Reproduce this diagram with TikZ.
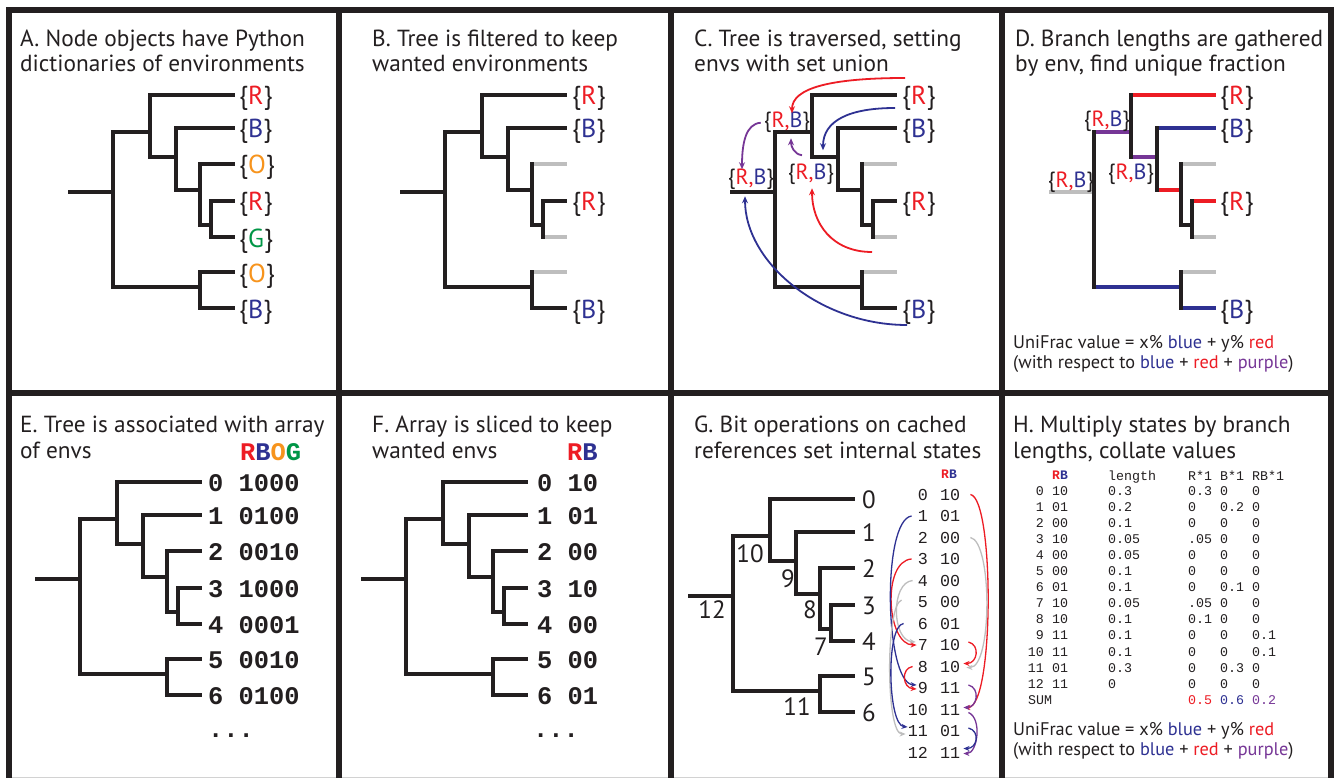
\documentclass[tikz,border=0pt]{standalone}
\usepackage{fontspec}
\setmainfont{PT Sans}
\setmonofont{Liberation Mono}
\usetikzlibrary{arrows.meta,calc}

\definecolor{ink}{RGB}{35,31,32}
\definecolor{cR}{RGB}{237,28,36}
\definecolor{cB}{RGB}{46,49,146}
\definecolor{cO}{RGB}{247,148,29}
\definecolor{cG}{RGB}{0,150,70}
\definecolor{cP}{RGB}{118,54,150}
\definecolor{cGr}{RGB}{190,190,190}

% environment labels
\newcommand\eR{\textcolor{cR}{R}}
\newcommand\eB{\textcolor{cB}{B}}
\newcommand\eO{\textcolor{cO}{O}}
\newcommand\eG{\textcolor{cG}{G}}
\newcommand\envset[1]{\{#1\}}
\newcommand\rbset{\{\textcolor{cR}{R,}\textcolor{cB}{B}\}}

\tikzset{
  frame/.style={line width=6.5pt, ink},
  br/.style={line width=3.6pt, ink},
  brg/.style={line width=3.6pt, cGr},
  vert/.style={line width=3.6pt, ink, line cap=rect},
  t stem/.style={br}, t h10/.style={br}, t h11/.style={br}, t h9/.style={br},
  t h8/.style={br}, t h7/.style={br},
  t l0/.style={br}, t l1/.style={br}, t l2/.style={br}, t l3/.style={br},
  t l4/.style={br}, t l5/.style={br}, t l6/.style={br},
  ttl/.style={anchor=base west, inner sep=0pt, text=ink, font=\fontsize{23.3}{25}\selectfont},
  lab/.style={anchor=base west, inner sep=0pt, text=ink, font=\fontsize{26}{28}\selectfont},
  setlab/.style={anchor=base, inner sep=0pt, text=ink, font=\fontsize{22}{24}\selectfont},
  note/.style={anchor=base west, inner sep=0pt, text=ink, font=\fontsize{18.3}{20}\selectfont},
  bits/.style={anchor=base west, inner sep=0pt, text=ink, font=\fontsize{25.4}{26}\selectfont\ttfamily\bfseries},
  gnum/.style={anchor=base, inner sep=0pt, text=ink, font=\fontsize{25}{27}\selectfont},
  gidx/.style={anchor=base east, inner sep=0pt, text=ink, font=\fontsize{16.7}{18}\selectfont\ttfamily},
  gst/.style={anchor=base west, inner sep=0pt, text=ink, font=\fontsize{16.7}{18}\selectfont\ttfamily},
  hcell/.style={anchor=base west, inner sep=0pt, text=ink, font=\fontsize{13.3}{14}\selectfont\ttfamily},
  hidx/.style={anchor=base east, inner sep=0pt, text=ink, font=\fontsize{13.3}{14}\selectfont\ttfamily},
  carr/.style={line width=1.8pt, -{Stealth[length=7pt,width=6pt]}},
  garr/.style={line width=1.3pt, -{Stealth[length=6pt,width=5pt]}},
}

% the seven-leaf tree, drawn at an offset
\newcommand\phylo[2]{%
  \begin{scope}[shift={(#1,#2)}]
    \draw[t stem] (68,192) -- (113,192);
    \draw[t h10] (113,132) -- (150,132);
    \draw[t h11] (113,287) -- (200,287);
    \draw[t h9] (150,157) -- (176,157);
    \draw[t h8] (176,190) -- (200,190);
    \draw[t h7] (200,225) -- (211,225);
    \draw[t l0] (150,95) -- (235,95);
    \draw[t l1] (176,128) -- (235,128);
    \draw[t l2] (200,164) -- (235,164);
    \draw[t l3] (211,201) -- (235,201);
    \draw[t l4] (211,237) -- (235,237);
    \draw[t l5] (200,272) -- (235,272);
    \draw[t l6] (200,308) -- (235,308);
    \draw[vert] (113,132) -- (113,287);
    \draw[vert] (150,95) -- (150,157);
    \draw[vert] (176,128) -- (176,190);
    \draw[vert] (200,164) -- (200,225);
    \draw[vert] (211,201) -- (211,237);
    \draw[vert] (200,272) -- (200,308);
  \end{scope}}

\begin{document}
\begin{tikzpicture}[x=1pt,y=-1pt]
\useasboundingbox (0,0) rectangle (1340,778);
\fill[white] (0,0) rectangle (1340,778);

% ---------- panel frame ----------
\draw[cGr!70, line width=1pt] (9,777) -- (1331,777);
\draw[frame] (9,778) -- (9,10) -- (1331,10) -- (1331,778);
\draw[frame] (9,393) -- (1331,393);
\foreach \xx in {339,671,1002} \draw[frame] (\xx,10) -- (\xx,778);

% ---------- titles ----------
\node[ttl] (tA1) at (20,47) {A. Node objects have Python};
\node[ttl] (tA2) at (20,72) {dictionaries of environments};
\node[ttl] (tB1) at (372,47) {B. Tree is filtered to keep};
\node[ttl] (tB2) at (372,72) {wanted environments};
\node[ttl] (tC1) at (694,47) {C. Tree is traversed, setting};
\node[ttl] (tC2) at (694,72) {envs with set union};
\node[ttl] (tD1) at (1015,47) {D. Branch lengths are gathered};
\node[ttl] (tD2) at (1015,72) {by env, find unique fraction};
\node[ttl] (tE1) at (20,432) {E. Tree is associated with array};
\node[ttl] (tE2) at (20,458) {of envs};
\node[ttl] (tF1) at (372,432) {F. Array is sliced to keep};
\node[ttl] (tF2) at (372,458) {wanted envs};
\node[ttl] (tG1) at (694,432) {G. Bit operations on cached};
\node[ttl] (tG2) at (694,458) {references set internal states};
\node[ttl] (tH1) at (1013,432) {H. Multiply states by branch};
\node[ttl] (tH2) at (1013,458) {lengths, collate values};

% ---------- A: dictionaries at every leaf ----------
\phylo{0}{0}
\node[lab] (a0) at (239,105) {\envset{\eR}};
\node[lab] (a1) at (239,138) {\envset{\eB}};
\node[lab] (a2) at (239,174) {\envset{\eO}};
\node[lab] (a3) at (239,211) {\envset{\eR}};
\node[lab] (a4) at (239,247) {\envset{\eG}};
\node[lab] (a5) at (239,282) {\envset{\eO}};
\node[lab] (a6) at (239,318) {\envset{\eB}};

% ---------- B: filtered tree ----------
\begin{scope}[t l2/.style={brg}, t l4/.style={brg}, t l5/.style={brg}]
  \phylo{332}{0}
\end{scope}
\node[lab] (b0) at (572,105) {\envset{\eR}};
\node[lab] (b1) at (572,138) {\envset{\eB}};
\node[lab] (b3) at (572,211) {\envset{\eR}};
\node[lab] (b6) at (572,318) {\envset{\eB}};

% ---------- C: traversal with set union ----------
\begin{scope}[t l2/.style={brg}, t l4/.style={brg}, t l5/.style={brg}]
  \phylo{662}{0}
\end{scope}
\node[lab] (c0) at (902,105) {\envset{\eR}};
\node[lab] (c1) at (902,138) {\envset{\eB}};
\node[lab] (c3) at (902,211) {\envset{\eR}};
\node[lab] (c6) at (902,318) {\envset{\eB}};
\node[setlab] (c10) at (787,128) {\rbset};
\node[setlab] (c12) at (751,185) {\rbset};
\node[setlab] (c9) at (811,180) {\rbset};
\coordinate (cs0) at (905,78);
\coordinate (cs1) at (895,108);
\coordinate (cs3) at (872,252);
\coordinate (cs6) at (907,325);
\draw[carr,cR] (cs0) .. controls +(-75,0) and +(0,-25) .. ($(c10.north)+(5,1)$);
\draw[carr,cB] (cs1) .. controls +(-45,0) and +(0,-30) .. ($(c9.north)+(12,-14)$);
\draw[carr,cP] ($(c9.north)+(-9,-9)$) .. controls +(-8,-1) and +(0,8) .. ($(c10.south)+(4,5)$);
\draw[carr,cP] ($(c10.west)+(-3,0)$) .. controls +(-15,1) and +(0,-26) .. ($(c12.north)+(-9,0)$);
\draw[carr,cR] (cs3) .. controls +(-40,0) and +(0,35) .. ($(c9.south)+(1,3)$);
\draw[carr,cB] (cs6) .. controls +(-87,0) and +(0,66) .. ($(c12.south)+(-6,6)$);

% ---------- D: branch lengths by environment ----------
\begin{scope}[t stem/.style={brg}, t h10/.style={br,cP}, t h9/.style={br,cP},
  t h8/.style={br,cR}, t h11/.style={br,cB}, t l0/.style={br,cR}, t l1/.style={br,cB},
  t l2/.style={brg}, t l3/.style={br,cR}, t l4/.style={brg}, t l5/.style={brg},
  t l6/.style={br,cB}]
  \phylo{981}{0}
\end{scope}
\node[lab] (d0) at (1220,105) {\envset{\eR}};
\node[lab] (d1) at (1220,138) {\envset{\eB}};
\node[lab] (d3) at (1220,211) {\envset{\eR}};
\node[lab] (d6) at (1220,318) {\envset{\eB}};
\node[setlab] (d12) at (1071,187) {\rbset};
\node[setlab] (d10) at (1107,127) {\rbset};
\node[setlab] (d9) at (1131,180) {\rbset};
\node[note] (dn1) at (1013,348) {UniFrac value = x\% \textcolor{cB}{blue} + y\% \textcolor{cR}{red}};
\node[note] (dn2) at (1013,368) {(with respect to \textcolor{cB}{blue} + \textcolor{cR}{red} + \textcolor{cP}{purple})};

% ---------- E: array of environments ----------
\phylo{-33}{387}
\node[bits] (eh) at (240,460) {\textcolor{cR}{R}\textcolor{cB}{B}\textcolor{cO}{O}\textcolor{cG}{G}};
\node[bits] (e0) at (208,491) {0 1000};
\node[bits] (e1) at (208,524) {1 0100};
\node[bits] (e2) at (208,560) {2 0010};
\node[bits] (e3) at (208,597) {3 1000};
\node[bits] (e4) at (208,633) {4 0001};
\node[bits] (e5) at (208,668) {5 0010};
\node[bits] (e6) at (208,704) {6 0100};
\node[bits] (edots) at (208,737) {...};

% ---------- F: sliced array ----------
\phylo{293}{387}
\node[bits] (fh) at (567,460) {\textcolor{cR}{R}\textcolor{cB}{B}};
\node[bits] (f0) at (537,491) {0 10};
\node[bits] (f1) at (537,524) {1 01};
\node[bits] (f2) at (537,560) {2 00};
\node[bits] (f3) at (537,597) {3 10};
\node[bits] (f4) at (537,633) {4 00};
\node[bits] (f5) at (537,668) {5 00};
\node[bits] (f6) at (537,704) {6 01};
\node[bits] (fdots) at (533,737) {...};

% ---------- G: bit operations on cached references ----------
\phylo{620}{404}
\node[gnum] (gl0) at (869,508) {0};
\node[gnum] (gl1) at (869,541) {1};
\node[gnum] (gl2) at (869,577) {2};
\node[gnum] (gl3) at (869,614) {3};
\node[gnum] (gl4) at (869,650) {4};
\node[gnum] (gl5) at (869,685) {5};
\node[gnum] (gl6) at (869,721) {6};
\node[gnum] (gn10) at (750,562) {10};
\node[gnum] (gn9) at (788,587) {9};
\node[gnum] (gn8) at (810,618) {8};
\node[gnum] (gn7) at (821,655) {7};
\node[gnum] (gn12) at (712,618) {12};
\node[gnum] (gn11) at (797,715) {11};
\node[anchor=base west, inner sep=0pt, font=\fontsize{13}{14}\selectfont\ttfamily\bfseries] (gh) at (941,478) {\textcolor{cR}{R}\textcolor{cB}{B}};
\foreach \i/\s in {0/10,1/01,2/00,3/10,4/00,5/00,6/01,7/10,8/10,9/11,10/11,11/01,12/11} {
  \node[gidx] (gi\i) at (928,{500+21.5*\i}) {\i};
  \node[gst] (gs\i) at (940,{500+21.5*\i}) {\s};
}
% left side: children feeding their parents
\draw[garr,cGr] ($(gi4.west)+(-5,0)$) .. controls +(-22,2) and +(-24,-2) .. ($(gi7.west)+(-2,-3)$);
\draw[garr,cR] ($(gi3.west)+(-6,0)$) .. controls +(-30,2) and +(-30,0) .. ($(gi7.west)+(-1,0)$);
\draw[garr,cB] ($(gi1.west)+(-6,0)$) .. controls +(-30,4) and +(-32,-2) .. ($(gi9.west)+(-1,-3)$);
\draw[garr,cR] ($(gi8.west)+(-5,0)$) .. controls +(-12,2) and +(-14,-1) .. ($(gi9.west)+(-1,1)$);
\draw[garr,cGr] ($(gi5.west)+(-16,-2)$) .. controls +(-16,4) and +(-20,0) .. ($(gi11.west)+(-2,3)$);
\draw[garr,cB] ($(gi6.west)+(-14,0)$) .. controls +(-18,2) and +(-20,-2) .. ($(gi11.west)+(0,-4)$);
% right side
\draw[garr,cR] ($(gs0.east)+(10,0)$) .. controls +(24,4) and +(30,0) .. ($(gs10.east)+(4,-2)$);
\draw[garr,cGr] ($(gs2.east)+(10,0)$) .. controls +(22,4) and +(26,0) .. ($(gs8.east)+(6,1)$);
\draw[garr,cR] ($(gs7.east)+(8,-3)$) .. controls +(12,3) and +(14,0) .. ($(gs8.east)+(3,-3)$);
\draw[garr,cP] ($(gs9.east)+(8,-3)$) .. controls +(12,3) and +(14,0) .. ($(gs10.east)+(3,-2)$);
\draw[garr,cP] ($(gs10.east)+(8,3)$) .. controls +(14,6) and +(14,0) .. ($(gs12.east)+(3,1)$);
\draw[garr,cB] ($(gs11.east)+(8,-3)$) .. controls +(12,3) and +(14,0) .. ($(gs12.east)+(3,-4)$);

% ---------- H: states times branch lengths ----------
\node[anchor=base west, inner sep=0pt, font=\fontsize{13}{14}\selectfont\ttfamily\bfseries] (hh) at (1052,479) {\textcolor{cR}{R}\textcolor{cB}{B}};
\node[hcell] (hlen) at (1108,480) {length};
\node[hcell] (hr) at (1188,480) {R*1};
\node[hcell] (hb) at (1220,480) {B*1};
\node[hcell] (hrb) at (1252,480) {RB*1};
\foreach \i/\s/\l/\a/\b/\c in {0/10/0.3/0.3/0/0, 1/01/0.2/0/0.2/0, 2/00/0.1/0/0/0,
  3/10/0.05/.05/0/0, 4/00/0.05/0/0/0, 5/00/0.1/0/0/0, 6/01/0.1/0/0.1/0,
  7/10/0.05/.05/0/0, 8/10/0.1/0.1/0/0, 9/11/0.1/0/0/0.1, 10/11/0.1/0/0/0.1,
  11/01/0.3/0/0.3/0, 12/11/0/0/0/0} {
  \node[hidx] (hi\i) at (1044,{495+16.1*\i}) {\i};
  \node[hcell] (hs\i) at (1052,{495+16.1*\i}) {\s};
  \node[hcell] (hl\i) at (1108,{495+16.1*\i}) {\l};
  \node[hcell] (ha\i) at (1188,{495+16.1*\i}) {\a};
  \node[hcell] (hb\i) at (1220,{495+16.1*\i}) {\b};
  \node[hcell] (hc\i) at (1252,{495+16.1*\i}) {\c};
}
\node[hcell] (hsum) at (1028,704) {SUM};
\node[hcell, text=cR] (hsa) at (1188,704) {0.5};
\node[hcell, text=cB] (hsb) at (1220,704) {0.6};
\node[hcell, text=cP] (hsc) at (1252,704) {0.2};
\node[note] (hn1) at (1013,735) {UniFrac value = x\% \textcolor{cB}{blue} + y\% \textcolor{cR}{red}};
\node[note] (hn2) at (1013,755) {(with respect to \textcolor{cB}{blue} + \textcolor{cR}{red} + \textcolor{cP}{purple})};
\end{tikzpicture}
\end{document}
